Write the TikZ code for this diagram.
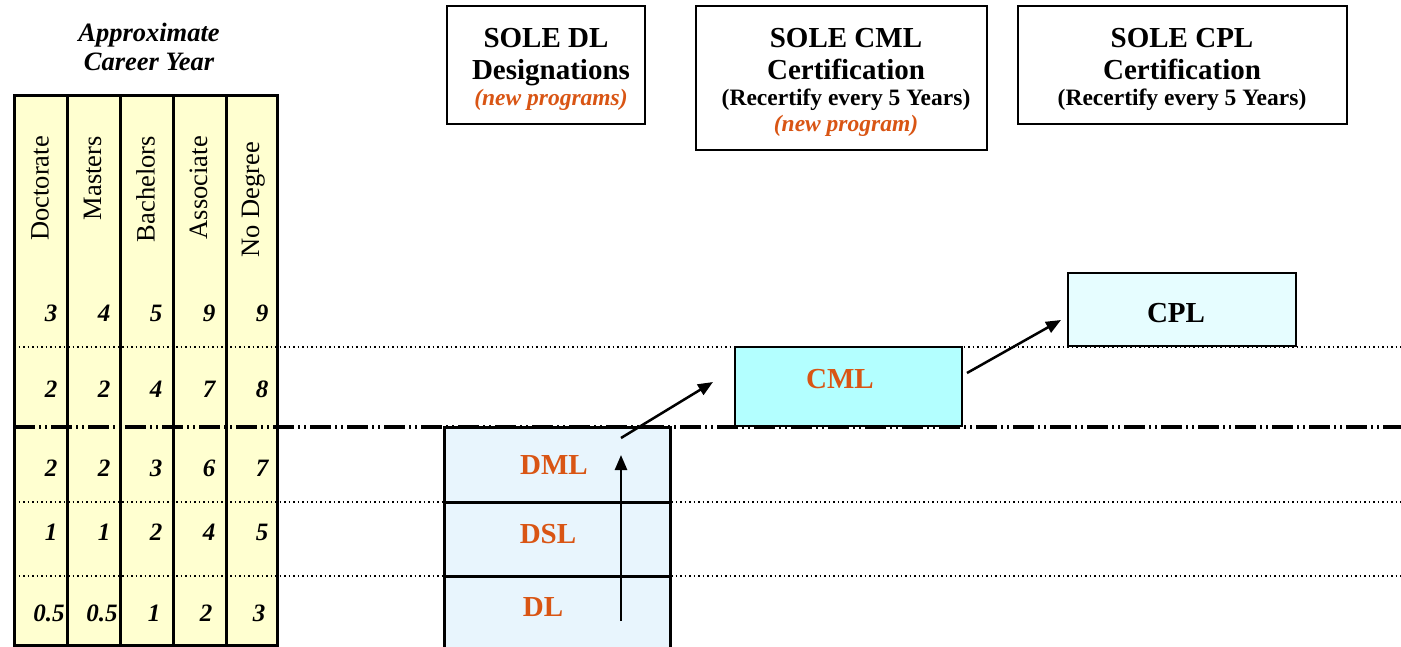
\documentclass[tikz,border=0pt]{standalone}
\usepackage{fontspec}
\setmainfont{Liberation Serif}
\usetikzlibrary{arrows.meta}
\definecolor{tabfill}{RGB}{255,255,208}
\definecolor{dlfill}{RGB}{232,245,253}
\definecolor{cmlfill}{RGB}{179,255,255}
\definecolor{cplfill}{RGB}{230,253,255}
\definecolor{orng}{RGB}{217,85,20}
\tikzset{
  hdr/.style={font=\fontsize{29}{32}\selectfont\bfseries, inner sep=0pt, anchor=base},
  subt/.style={font=\fontsize{23.5}{28}\selectfont\bfseries, inner sep=0pt, anchor=base},
  newp/.style={font=\fontsize{23.5}{28}\selectfont\bfseries\itshape, text=orng, inner sep=0pt, anchor=base},
  hbox/.style={draw, line width=2.5pt, fill=white, inner sep=0pt, outer sep=0pt},
  cbox/.style={draw, line width=2.5pt, inner sep=0pt, outer sep=0pt},
  lvl/.style={font=\fontsize{29}{32}\selectfont\bfseries, text=orng, inner sep=0pt, anchor=base},
  num/.style={font=\fontsize{25}{28}\selectfont\bfseries\itshape, inner sep=0pt, anchor=base},
  deg/.style={font=\fontsize{26.5}{30}\selectfont, rotate=90, inner sep=0pt, anchor=base east},
  ttl/.style={font=\fontsize{26.5}{30}\selectfont\bfseries\itshape, inner sep=0pt, anchor=base},
  dotline/.style={line width=1.5pt, dash pattern=on 1.5pt off 3pt},
  bigdash/.style={line width=4pt, dash pattern=on 21pt off 4pt on 2pt off 4pt on 2pt off 4pt},
  arr/.style={line width=2.5pt, -{Triangle[length=15pt,width=12pt]}},
}
\begin{document}
\begin{tikzpicture}[x=1pt,y=-1pt]
\useasboundingbox (0,0) rectangle (1401,647);
\fill[white] (0,0) rectangle (1401,647);

% title
\node[ttl] (t1) at (149,42) {Approximate};
\node[ttl] (t2) at (149,71) {Career Year};

% table fill
\fill[tabfill] (14,96) rectangle (277,645);
% DL stack fill
\fill[dlfill] (444,427) rectangle (670,650);

% horizontal guide lines
\draw[dotline] (14,347) -- (1401,347);
\draw[dotline] (14,502) -- (1401,502);
\draw[dotline] (14,576) -- (1401,576);

% table borders
\draw[line width=3pt] (14,96) rectangle (277,645);
\foreach \xx in {67,120,173,226} \draw[line width=3pt] (\xx,96) -- (\xx,645);

% degree labels
\node[deg] (d1) at (48.5,136) {Doctorate};
\node[deg] (d2) at (101,136) {Masters};
\node[deg] (d3) at (154.5,136) {Bachelors};
\node[deg] (d4) at (207,136) {Associate};
\node[deg] (d5) at (259,142) {No Degree};

% numbers
\node[num] (n11) at (51,321) {3};
\node[num] (n12) at (104,321) {4};
\node[num] (n13) at (156,321) {5};
\node[num] (n14) at (209,321) {9};
\node[num] (n15) at (262,321) {9};
\node[num] (n21) at (51,397) {2};
\node[num] (n22) at (104,397) {2};
\node[num] (n23) at (156,397) {4};
\node[num] (n24) at (209,397) {7};
\node[num] (n25) at (262,397) {8};
\node[num] (n31) at (51,476) {2};
\node[num] (n32) at (104,476) {2};
\node[num] (n33) at (156,476) {3};
\node[num] (n34) at (209,476) {6};
\node[num] (n35) at (262,476) {7};
\node[num] (n41) at (51,540) {1};
\node[num] (n42) at (104,540) {1};
\node[num] (n43) at (156,540) {2};
\node[num] (n44) at (209,540) {4};
\node[num] (n45) at (262,540) {5};
\node[num] (n51) at (49,621) {0.5};
\node[num] (n52) at (102,621) {0.5};
\node[num] (n53) at (154,621) {1};
\node[num] (n54) at (206,621) {2};
\node[num] (n55) at (259,621) {3};

% DL stack
\draw[line width=3pt] (444,650) -- (444,427) -- (670,427) -- (670,650);
\draw[line width=3pt] (444,502) -- (670,502);
\draw[line width=3pt] (444,576) -- (670,576);
\node[lvl] (dml) at (554,474) {DML};
\node[lvl] (dsl) at (548,543) {DSL};
\node[lvl] (dl) at (543,616) {DL};

% CML and CPL boxes
\node[cbox, fill=cmlfill, minimum width=227pt, minimum height=79pt] (cmlbox) at (848.5,386.5) {};
\node[lvl] (cml) at (840,388) {CML};
\node[cbox, fill=cplfill, minimum width=228pt, minimum height=73pt] (cplbox) at (1182,309.5) {};
\node[lvl, text=black] (cpl) at (1176,323) {CPL};

% big dashed line
\draw[bigdash] (14,427) -- (1401,427);

% header boxes
\node[hbox, minimum width=198pt, minimum height=118pt] (h1) at (546,65) {};
\node[hdr] at (546,48) {SOLE DL};
\node[hdr] at (551,80) {Designations};
\node[newp] at (551,106) {(new programs)};

\node[hbox, minimum width=291pt, minimum height=144pt] (h2) at (841.5,78) {};
\node[hdr] at (846,48) {SOLE CML};
\node[hdr] at (846,80) {Certification};
\node[subt] at (846,106) {(Recertify every 5 Years)};
\node[newp] at (846,132) {(new program)};

\node[hbox, minimum width=329pt, minimum height=118pt] (h3) at (1182.5,65) {};
\node[hdr] at (1182,48) {SOLE CPL};
\node[hdr] at (1182,80) {Certification};
\node[subt] at (1182,106) {(Recertify every 5 Years)};

% arrows
\coordinate (a0) at (621,621);
\coordinate (a1) at (621,455);
\coordinate (b0) at (621,438);
\coordinate (b1) at (713,382);
\coordinate (c0) at (967,373);
\coordinate (c1) at (1061,320);
\draw[arr] (a0) -- (a1);
\draw[arr] (b0) -- (b1);
\draw[arr] (c0) -- (c1);
\end{tikzpicture}
\end{document}
